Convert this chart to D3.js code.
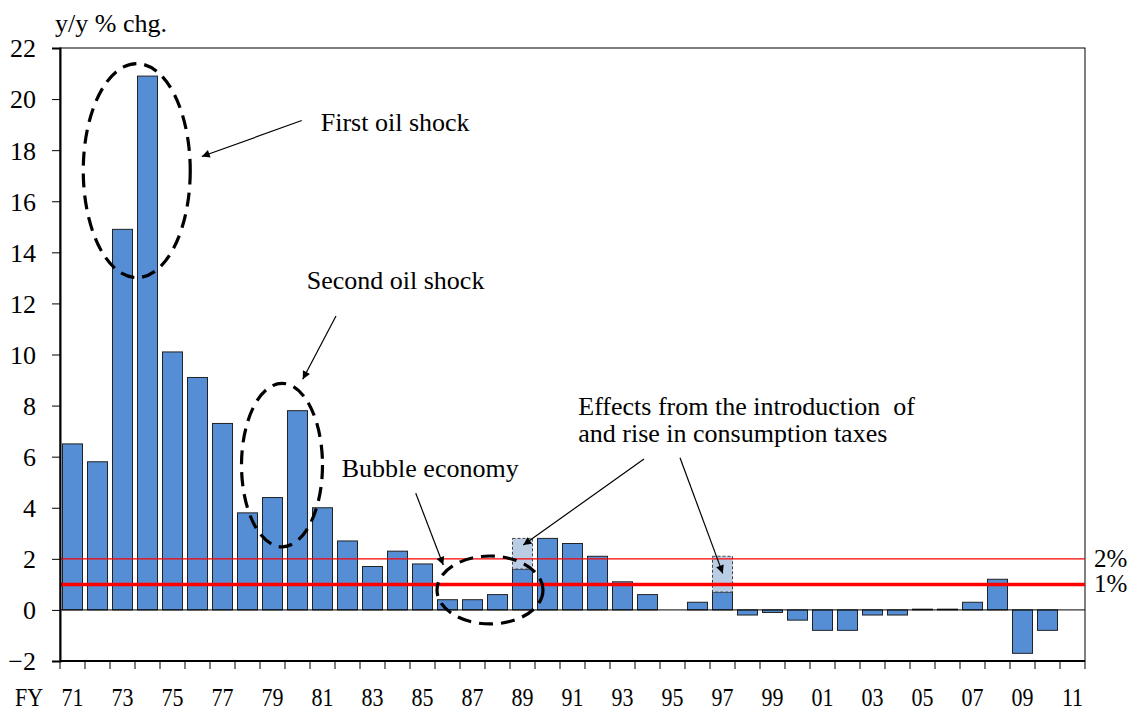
<!DOCTYPE html>
<html>
<head>
<meta charset="utf-8">
<script src="https://cdn.jsdelivr.net/npm/d3@7"></script>
<style>
  html, body { margin: 0; padding: 0; background: #fff; }
  svg { display: block; }
  text { font-family: "Liberation Serif", "Times New Roman", serif; fill: #000; }
</style>
</head>
<body>
<svg id="chart" width="1131" height="713"></svg>
<script>
// ---------------- data ----------------
const years = ["71","72","73","74","75","76","77","78","79","80",
               "81","82","83","84","85","86","87","88","89","90",
               "91","92","93","94","95","96","97","98","99","00",
               "01","02","03","04","05","06","07","08","09","10","11"];
const values = [6.5, 5.8, 14.9, 20.9, 10.1, 9.1, 7.3, 3.8, 4.4, 7.8,
                4.0, 2.7, 1.7, 2.3, 1.8, 0.4, 0.4, 0.6, 1.6, 2.8,
                2.6, 2.1, 1.1, 0.6, 0.0, 0.3, 0.7, -0.2, -0.1, -0.4,
                -0.8, -0.8, -0.2, -0.2, 0.03, 0.03, 0.3, 1.2, -1.7, -0.8, null];
const taxYears = ["89", "97"];
const taxEffect = [1.2, 1.4];
const yTicks = [-2, 0, 2, 4, 6, 8, 10, 12, 14, 16, 18, 20, 22];
const xTickLabels = ["71","73","75","77","79","81","83","85","87","89","91","93","95","97","99","01","03","05","07","09","11"];
const refLines = [2, 1];
const refLabels = ["2%", "1%"];

// ---------------- layout ----------------
const svg = d3.select("#chart");
const L = 60, R = 1085, T = 48, B = 661;
const x = d3.scaleBand().domain(years).range([L, R]).paddingInner(0.2).paddingOuter(0.1);
const y = d3.scaleLinear().domain([-2, 22]).range([B, T]);
const step = x.step(), bw = x.bandwidth();
// index -> band centre (for annotations)
const xi = d3.scaleLinear().domain([0, years.length - 1])
  .range([x(years[0]) + bw / 2, x(years[years.length - 1]) + bw / 2]);

// frame
svg.append("rect").attr("x", L).attr("y", T).attr("width", R - L).attr("height", B - T)
  .attr("fill", "none").attr("stroke", "#000").attr("stroke-width", 1);

// bars
const data = years.map((yr, i) => ({ yr, v: values[i] })).filter(d => d.v !== null);
svg.append("g").selectAll("rect").data(data).join("rect")
  .attr("x", d => x(d.yr))
  .attr("width", bw)
  .attr("y", d => y(Math.max(0, d.v)))
  .attr("height", d => Math.abs(y(d.v) - y(0)))
  .attr("fill", "#558ed5")
  .attr("stroke", "#222")
  .attr("stroke-width", 1);

// consumption-tax effect boxes (dashed)
svg.append("g").selectAll("rect").data(taxYears.map((yr, i) => ({ yr, e: taxEffect[i], base: values[years.indexOf(yr)] })))
  .join("rect")
  .attr("x", d => x(d.yr))
  .attr("width", bw)
  .attr("y", d => y(d.base + d.e))
  .attr("height", d => y(d.base) - y(d.base + d.e))
  .attr("fill", "#b9cde5")
  .attr("stroke", "#444")
  .attr("stroke-width", 1)
  .attr("stroke-dasharray", "3,2");

// zero line
svg.append("line").attr("x1", L).attr("x2", R).attr("y1", y(0)).attr("y2", y(0))
  .attr("stroke", "#000").attr("stroke-width", 1);

// reference lines 2% (thin) and 1% (thick)
svg.append("line").attr("x1", L).attr("x2", R).attr("y1", y(refLines[0])).attr("y2", y(refLines[0]))
  .attr("stroke", "#ff0000").attr("stroke-width", 1.3);
svg.append("line").attr("x1", L).attr("x2", R).attr("y1", y(refLines[1])).attr("y2", y(refLines[1]))
  .attr("stroke", "#ff0000").attr("stroke-width", 3.5);
refLabels.forEach((t, i) => {
  svg.append("text").text(t).attr("font-size", 25)
    .attr("x", 1094).attr("y", y(refLines[i]) + 8);
});

// y axis
const yAxis = svg.append("g").attr("transform", `translate(${L},0)`)
  .call(d3.axisLeft(y).tickValues(yTicks).tickSize(8).tickPadding(16).tickFormat(d3.format("d")));
yAxis.select(".domain").attr("stroke", "#000").attr("stroke-width", 2);
yAxis.selectAll(".tick line").attr("stroke", "#000");
yAxis.selectAll(".tick text").attr("font-size", 26)
  .attr("fill", "#000").attr("dy", "0.34em");

// x axis: bottom line and ticks at band boundaries
svg.append("line").attr("x1", L).attr("x2", R).attr("y1", B).attr("y2", B)
  .attr("stroke", "#000").attr("stroke-width", 2);
const edges = years.map(yr => x(yr) - (step - bw) / 2).concat([R]);
svg.append("g").selectAll("line").data(edges).join("line")
  .attr("x1", d => d).attr("x2", d => d).attr("y1", B).attr("y2", B + 8)
  .attr("stroke", "#000").attr("stroke-width", 1);
// x labels: narrow, tall lettering as in the original
svg.append("g").selectAll("text").data(xTickLabels).join("text")
  .text(d => d)
  .attr("text-anchor", "middle")
  .attr("font-size", 22)
  .attr("transform", d => `translate(${x(d) + bw / 2},706) scale(1,1.15)`);
svg.append("text").text("FY").attr("text-anchor", "middle").attr("font-size", 22)
  .attr("transform", `translate(29,706) scale(1,1.15)`);

// unit label
svg.append("text").text("y/y % chg.").attr("font-size", 26).attr("x", 55).attr("y", 32);

// ---------------- annotations ----------------
const ellipses = [
  { ci: 2.57, cv: 17.2, rxi: 2.14, ryv: 4.19 },
  { ci: 8.38, cv: 5.67, rxi: 1.62, ryv: 3.2 },
  { ci: 16.7, cv: 0.78, rxi: 2.12, ryv: 1.33 }
];
svg.append("g").selectAll("ellipse").data(ellipses).join("ellipse")
  .attr("cx", d => xi(d.ci)).attr("cy", d => y(d.cv))
  .attr("rx", d => xi(d.rxi) - xi(0)).attr("ry", d => y(0) - y(d.ryv))
  .attr("fill", "none").attr("stroke", "#000").attr("stroke-width", 3.2)
  .attr("stroke-dasharray", "14,8");

svg.append("defs").append("marker")
  .attr("id", "arrow").attr("viewBox", "0 0 10 10").attr("refX", 10).attr("refY", 5)
  .attr("markerWidth", 11).attr("markerHeight", 8).attr("markerUnits", "userSpaceOnUse")
  .attr("orient", "auto")
  .append("path").attr("d", "M0,0 L10,5 L0,10 Z").attr("fill", "#000");

const arrows = [
  { i1: 9.17, v1: 19.16, i2: 5.17, v2: 17.75 },
  { i1: 10.54, v1: 11.51, i2: 9.21, v2: 9.03 },
  { i1: 13.73, v1: 4.57, i2: 14.83, v2: 1.76 },
  { i1: 22.86, v1: 5.91, i2: 18.03, v2: 2.54 },
  { i1: 24.3, v1: 5.96, i2: 26.01, v2: 1.43 }
];
svg.append("g").selectAll("line").data(arrows).join("line")
  .attr("x1", d => xi(d.i1)).attr("y1", d => y(d.v1))
  .attr("x2", d => xi(d.i2)).attr("y2", d => y(d.v2))
  .attr("stroke", "#000").attr("stroke-width", 1.2)
  .attr("marker-end", "url(#arrow)");

const notes = [
  { t: "First oil shock", i: 9.93, v: 18.75 },
  { t: "Second oil shock", i: 9.37, v: 12.55 },
  { t: "Bubble economy", i: 10.77, v: 5.22 },
  { t: "Effects from the introduction  of", i: 20.23, v: 7.63 },
  { t: "and rise in consumption taxes", i: 20.23, v: 6.59 }
];
svg.append("g").selectAll("text").data(notes).join("text")
  .text(d => d.t)
  .attr("font-size", 26)
  .style("white-space", "pre")
  .attr("x", d => xi(d.i)).attr("y", d => y(d.v));
</script>
</body>
</html>
